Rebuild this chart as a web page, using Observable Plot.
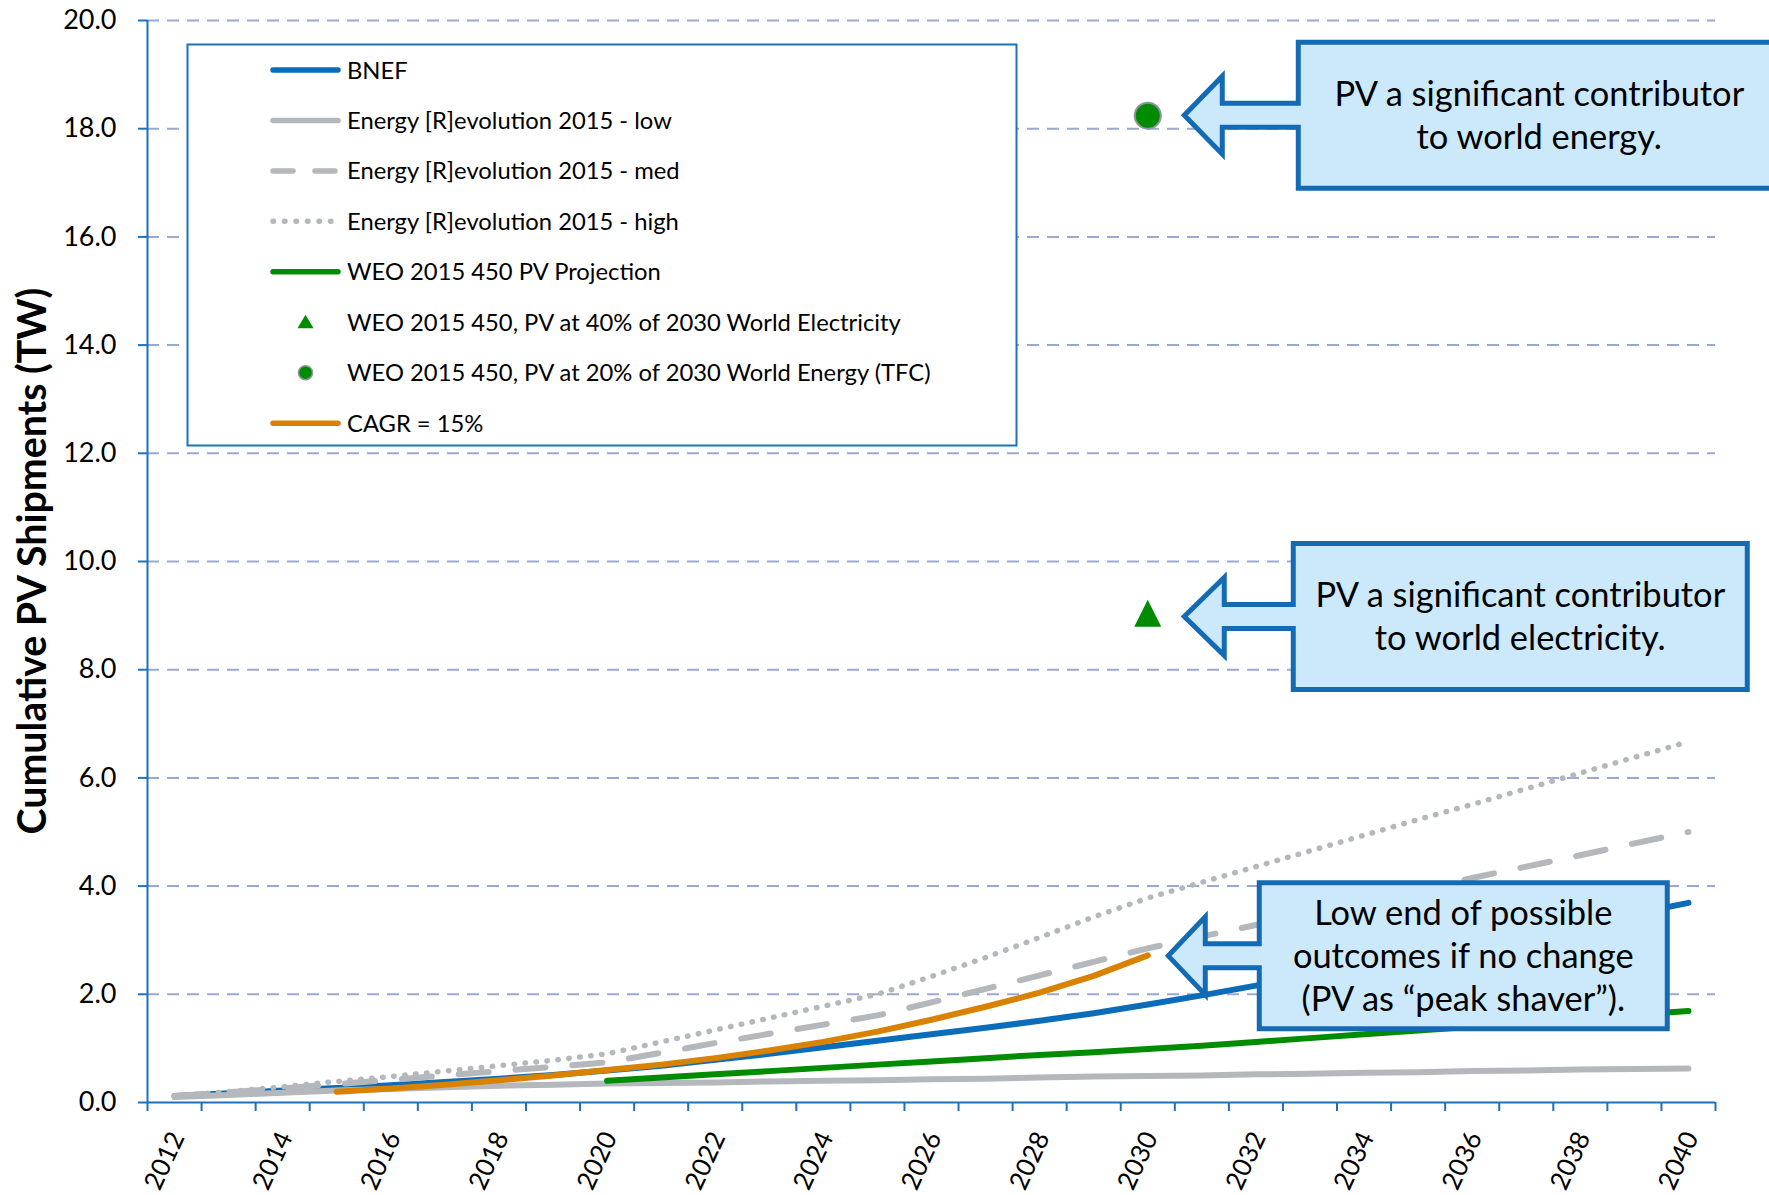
<!DOCTYPE html>
<html><head><meta charset="utf-8">
<script src="https://cdn.jsdelivr.net/npm/d3@7"></script>
<script src="https://cdn.jsdelivr.net/npm/@observablehq/plot@0.6"></script>
<style>
html,body{margin:0;padding:0;background:#fff;}
#chart{width:1769px;height:1195px;overflow:hidden;}
</style></head><body><div id="chart"></div>
<script>
// ---------- data ----------
const years = d3.range(2012, 2041);
const bnef   = [0.12,0.17,0.22,0.27,0.32,0.38,0.44,0.51,0.59,0.68,0.79,0.90,1.02,1.14,1.26,1.38,1.51,1.65,1.81,1.98,2.16,2.34,2.53,2.72,2.91,3.10,3.29,3.49,3.69];
const erLow  = [0.10,0.14,0.18,0.22,0.25,0.28,0.31,0.33,0.35,0.36,0.37,0.39,0.40,0.41,0.43,0.44,0.46,0.48,0.49,0.50,0.52,0.53,0.55,0.56,0.58,0.59,0.61,0.62,0.63];
const erMed  = [0.12,0.19,0.26,0.34,0.42,0.50,0.58,0.66,0.74,0.92,1.10,1.27,1.44,1.61,1.85,2.10,2.35,2.60,2.85,3.07,3.28,3.50,3.72,3.93,4.15,4.36,4.57,4.79,5.00];
const erHigh = [0.12,0.20,0.29,0.39,0.48,0.58,0.68,0.78,0.90,1.12,1.34,1.56,1.78,2.00,2.33,2.68,3.05,3.43,3.78,4.07,4.36,4.65,4.94,5.23,5.51,5.80,6.09,6.38,6.67];
const weoYears = d3.range(2020, 2041);
const weo    = [0.40,0.46,0.52,0.58,0.64,0.70,0.76,0.82,0.88,0.93,0.99,1.05,1.12,1.19,1.26,1.33,1.40,1.47,1.54,1.62,1.69];
const cagrYears = d3.range(2015, 2031);
const cagr   = [0.20,0.26,0.33,0.41,0.50,0.60,0.70,0.82,0.96,1.12,1.31,1.53,1.77,2.03,2.34,2.72];
const markerYear = 2030;
const elecPoint = 9.03;     // PV at 40% of 2030 world electricity
const energyPoint = 18.24;  // PV at 20% of 2030 world energy
const yTicks = d3.range(0, 21, 2);
const xLabelYears = d3.range(2012, 2041, 2);
const yTitle = "Cumulative PV Shipments (TW)";
const legendLabels = [
  "BNEF",
  "Energy [R]evolution 2015 - low",
  "Energy [R]evolution 2015 - med",
  "Energy [R]evolution 2015 - high",
  "WEO 2015 450 PV Projection",
  "WEO 2015 450, PV at 40% of 2030 World Electricity",
  "WEO 2015 450, PV at 20% of 2030 World Energy (TFC)",
  "CAGR = 15%"
];
const calloutEnergy = ["PV a significant contributor", "to world energy."];
const calloutElec   = ["PV a significant contributor", "to world electricity."];
const calloutLow    = ["Low end of possible", "outcomes if no change", "(PV as \u201Cpeak shaver\u201D)."];

// ---------- styles ----------
const W = 1769, H = 1195;
const cBlue = "#0B6DBA", cGray = "#B4B8BC", cGreen = "#008C00", cOrange = "#D98200";
const cAxis = "#1C72BD", cGrid = "#9AA9CF", cCallFill = "#CCE9FB", cCallStroke = "#156BB3";
const FONT = "Lato, 'Open Sans', sans-serif";
const rows = (xs, vs) => xs.map((x, i) => ({year: x, value: vs[i]}));
const lineOpts = (stroke, extra = {}) => ({x: "year", y: "value", stroke, strokeWidth: 6, strokeLinecap: "round", strokeLinejoin: "round", ...extra});

const triSymbol = {
  draw(ctx, size) {
    const r = Math.sqrt(size / Math.PI);
    ctx.moveTo(0, -r * 1.05);
    ctx.lineTo(r, r * 0.95);
    ctx.lineTo(-r, r * 0.95);
    ctx.closePath();
  }
};

const plot = Plot.plot({
  width: W, height: H,
  marginLeft: 147, marginRight: 54, marginTop: 20, marginBottom: 93,
  x: {domain: [2011.5, 2040.5]},
  y: {domain: [0, 20]},
  style: {fontFamily: FONT, fontSize: "27px", color: "#000", background: "#fff"},
  marks: [
    Plot.ruleY(yTicks.filter(d => d > 0), {stroke: cGrid, strokeWidth: 2, strokeDasharray: "12 8"}),
    Plot.ruleX([2011.5], {stroke: cAxis, strokeWidth: 2}),
    Plot.ruleY([0], {stroke: cAxis, strokeWidth: 2}),
    Plot.axisY({ticks: yTicks, tickFormat: d => d.toFixed(1), tickSize: 9, tickPadding: 22, stroke: cAxis, strokeWidth: 2, fontSize: 27, label: null}),
    Plot.axisX({ticks: d3.range(2011.5, 2041, 1), tickFormat: () => "", tickSize: 9, stroke: cAxis, strokeWidth: 2, label: null}),
    Plot.text(xLabelYears, {x: d => d, y: () => 0, text: d => String(d), rotate: -65, textAnchor: "end", dx: 3, dy: 31, fontSize: 26, fill: "#000"}),
    Plot.line(rows(years, bnef), lineOpts(cBlue)),
    Plot.line(rows(years, erLow), lineOpts(cGray)),
    Plot.line(rows(years, erMed), lineOpts(cGray, {strokeDasharray: "30 27"})),
    Plot.line(rows(years, erHigh), lineOpts(cGray, {strokeWidth: 5.5, strokeDasharray: "0.5 10.5"})),
    Plot.line(rows(weoYears, weo), lineOpts(cGreen)),
    Plot.dot([{year: markerYear, value: elecPoint}], {x: "year", y: "value", symbol: triSymbol, r: 13.5, fill: cGreen, stroke: "none"}),
    Plot.dot([{year: markerYear, value: energyPoint}], {x: "year", y: "value", r: 13, fill: cGreen, stroke: "#8E939C", strokeWidth: 2}),
    Plot.line(rows(cagrYears, cagr), lineOpts(cOrange))
  ]
});
document.getElementById("chart").appendChild(plot);

const X = plot.scale("x"), Y = plot.scale("y");
const svg = d3.select(plot);

// ---------- y title ----------
const yt = svg.append("text")
  .attr("transform", "translate(30,561) rotate(-90)")
  .attr("text-anchor", "middle").attr("dominant-baseline", "central")
  .attr("font-family", FONT).attr("font-weight", "bold").attr("font-size", 32)
  .attr("fill", "#000").text(yTitle);
{ const len = yt.node().getComputedTextLength(); yt.attr("font-size", 32 * 547 / len); }

// ---------- legend ----------
const legendStyle = [
  {kind: "line", stroke: cBlue},
  {kind: "line", stroke: cGray},
  {kind: "line", stroke: cGray, dash: "20 22"},
  {kind: "line", stroke: cGray, dash: "0.5 11"},
  {kind: "line", stroke: cGreen},
  {kind: "tri"},
  {kind: "circle"},
  {kind: "line", stroke: cOrange}
];
const lg = svg.append("g");
lg.append("rect").attr("x", 187.5).attr("y", 44.5).attr("width", 829).attr("height", 401)
  .attr("fill", "#fff").attr("stroke", cAxis).attr("stroke-width", 2);
const texts = [];
legendLabels.forEach((label, i) => {
  const y = 70 + i * 50.45;
  const st = legendStyle[i];
  if (st.kind === "line") {
    lg.append("line").attr("x1", 273).attr("x2", 338).attr("y1", y).attr("y2", y)
      .attr("stroke", st.stroke).attr("stroke-width", 5.5).attr("stroke-linecap", "round")
      .attr("stroke-dasharray", st.dash || null);
  } else if (st.kind === "tri") {
    lg.append("path").attr("d", `M305.5,${y - 7.5}L313.5,${y + 6}L297.5,${y + 6}Z`).attr("fill", cGreen);
  } else {
    lg.append("circle").attr("cx", 305.5).attr("cy", y).attr("r", 7).attr("fill", cGreen)
      .attr("stroke", "#8E939C").attr("stroke-width", 1.5);
  }
  texts.push(lg.append("text").attr("x", 347).attr("y", y).attr("dy", "0.36em")
    .attr("text-anchor", "start")
    .attr("font-family", FONT).attr("font-size", 21).attr("fill", "#000").text(label));
});
{
  const len = texts[6].node().getComputedTextLength();
  const fs = 21 * 584 / len;
  texts.forEach(t => t.attr("font-size", fs));
}

// ---------- callouts ----------
const callouts = [
  {lines: calloutEnergy, ax: markerYear, ay: energyPoint, tipDx: 37, tipDy: 0, boxDx: 114, boxW: 482, headDx: 38},
  {lines: calloutElec,   ax: markerYear, ay: elecPoint,   tipDx: 37, tipDy: 3, boxDx: 109, boxW: 454, headDx: 40},
  {lines: calloutLow,    ax: cagrYears[cagrYears.length - 1], ay: cagr[cagr.length - 1], tipDx: 21, tipDy: 1, boxDx: 91, boxW: 408, headDx: 37}
];
const cg = svg.append("g");
const callTexts = [];
callouts.forEach(c => {
  const tx = X.apply(c.ax) + c.tipDx, ty = Y.apply(c.ay) + c.tipDy;
  const L = tx + c.boxDx, R = L + c.boxW, T = ty - 73, B = ty + 73;
  const hb = tx + c.headDx, sh = 12, hh = 39;
  const d = `M${L},${T}H${R}V${B}H${L}V${ty + sh}H${hb}V${ty + hh}L${tx},${ty}L${hb},${ty - hh}V${ty - sh}H${L}Z`;
  cg.append("path").attr("d", d).attr("fill", cCallFill).attr("stroke", cCallStroke)
    .attr("stroke-width", 5).attr("stroke-linejoin", "miter");
  const cx = (L + R) / 2, n = c.lines.length;
  c.lines.forEach((s, i) => {
    callTexts.push(cg.append("text").attr("x", cx).attr("y", ty + (i - (n - 1) / 2) * 43)
      .attr("dy", "0.36em").attr("text-anchor", "middle")
      .attr("font-family", FONT).attr("font-size", 30).attr("fill", "#000").text(s));
  });
});
{
  const len = callTexts[0].node().getComputedTextLength();
  const fs = 30 * 410 / len;
  callTexts.forEach(t => t.attr("font-size", fs));
}
</script>
</body></html>
